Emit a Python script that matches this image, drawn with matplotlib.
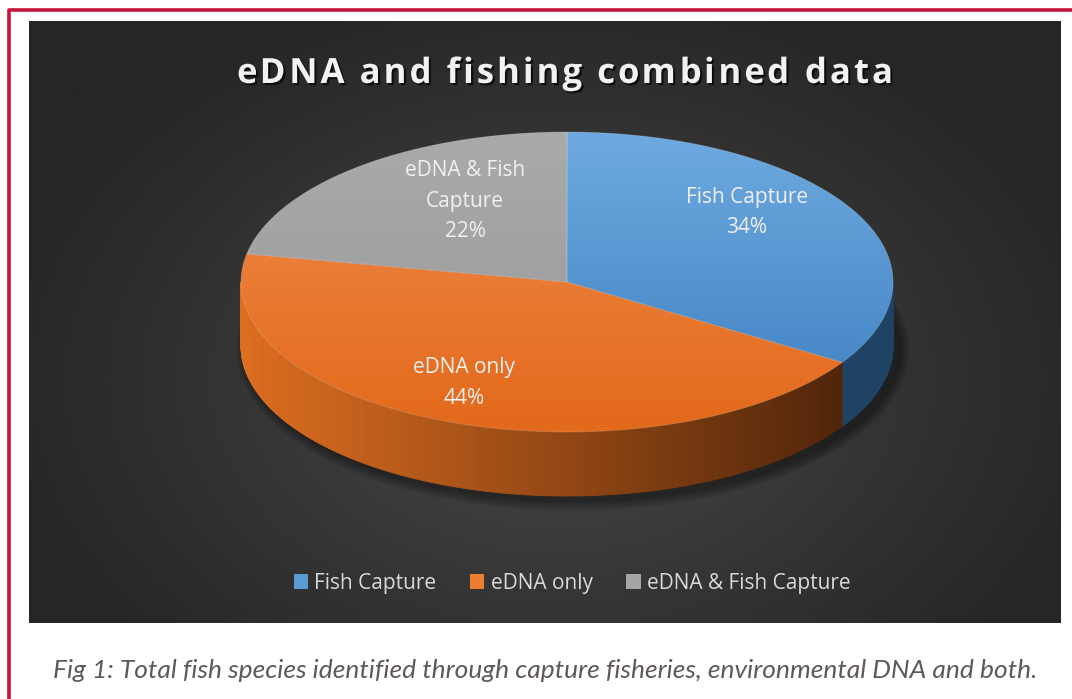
import numpy as np
import matplotlib
matplotlib.use("Agg")
import matplotlib.pyplot as plt
import matplotlib.patheffects as pe
from matplotlib.patches import Polygon, Patch, Ellipse
from matplotlib.collections import PolyCollection
from matplotlib.colors import to_rgb
from matplotlib.font_manager import FontProperties

# data
categories = ["Fish Capture", "eDNA only", "eDNA & Fish Capture"]
shares = [34, 44, 22]
slice_labels = ["Fish Capture\n34%", "eDNA only\n44%", "eDNA & Fish\nCapture\n22%"]
title = "eDNA and fishing combined data"
caption = "Fig 1: Total fish species identified through capture fisheries, environmental DNA and both."

top_colors = [("#6eaae0", "#3d7ec0"), ("#f08c4c", "#e3691b"), ("#aaaaaa", "#989898")]
side_colors = [("#2a5883", "#1f4365"), ("#de6f20", "#4f240a"), ("#8a8a8a", "#6a6a6a")]
legend_colors = ["#5b9bd5", "#ed7d31", "#a5a5a5"]

W, H = 1072, 699
fig = plt.figure(figsize=(W / 100, H / 100), dpi=100)
ax = fig.add_axes([0, 0, 1, 1])
ax.axis("off")

# outer frame
ax.plot([8.5, 8.5, W], [H, 10, 10], color="#c8143c", lw=2.6, solid_capstyle="butt")

# dark panel with radial gradient
px0, px1, py0, py1 = 29, 1061, 21, 623
gx, gy = np.meshgrid(np.linspace(px0, px1, 400), np.linspace(py0, py1, 240))
r = np.sqrt(((gx - 555) / 560) ** 2 + ((gy - 380) / 400) ** 2)
r = np.clip(r, 0, 1)
c_in, c_out = np.array(to_rgb("#484848")), np.array(to_rgb("#262626"))
bg = c_in[None, None, :] * (1 - r[..., None]) + c_out[None, None, :] * r[..., None]
ax.imshow(bg, extent=[px0, px1, py1, py0], aspect="auto", zorder=0, interpolation="bilinear")

# pie geometry (pixel units)
cx, cy, a, b, depth = 567, 282, 326, 150, 64


def pt(theta):
    return cx + a * np.sin(theta), cy - b * np.cos(theta)


# shadow
for k in range(7):
    ax.add_patch(Ellipse((cx + 6, cy + depth + 4), 2 * a + 4 + 3 * k, 2 * b + 4 + 3 * k,
                         facecolor="black", alpha=0.06, edgecolor="none", zorder=1))

bounds = np.concatenate([[0], np.cumsum(shares)]) / sum(shares) * 2 * np.pi

# side walls (front half only)
for i in range(len(shares)):
    t0, t1 = max(bounds[i], np.pi / 2), min(bounds[i + 1], 1.5 * np.pi)
    if t1 <= t0:
        continue
    ts = np.linspace(t0, t1, 200)
    c_left, c_right = np.array(to_rgb(side_colors[i][0])), np.array(to_rgb(side_colors[i][1]))
    quads, cols = [], []
    for t_a, t_b in zip(ts[:-1], ts[1:]):
        xa, ya = pt(t_a)
        xb, yb = pt(t_b)
        quads.append([(xa, ya), (xb, yb), (xb, yb + depth), (xa, ya + depth)])
        f = np.clip(((xa + xb) / 2 - (cx - a)) / (2 * a - 40), 0, 1)
        cols.append(c_left * (1 - f) + c_right * f)
    ax.add_collection(PolyCollection(quads, facecolors=cols, edgecolors=cols, linewidths=0.6, zorder=2))

# top faces with vertical gradient
for i in range(len(shares)):
    ts = np.linspace(bounds[i], bounds[i + 1], 200)
    xs, ys = pt(ts)
    verts = np.column_stack([np.concatenate([[cx], xs]), np.concatenate([[cy], ys])])
    poly = Polygon(verts, closed=True, facecolor="none", edgecolor="none", zorder=3)
    ax.add_patch(poly)
    c0, c1 = np.array(to_rgb(top_colors[i][0])), np.array(to_rgb(top_colors[i][1]))
    g = np.linspace(0, 1, 200)[:, None, None]
    img = np.repeat(c0 * (1 - g) + c1 * g, 2, axis=1)
    im = ax.imshow(img, extent=[cx - a, cx + a, cy + b, cy - b], aspect="auto", zorder=3,
                   interpolation="bilinear")
    im.set_clip_path(poly)
    ax.add_patch(Polygon(verts, closed=True, facecolor="none", edgecolor=(1, 1, 1, 0.2),
                         lw=0.6, zorder=4))

ax.set_xlim(0, W)
ax.set_ylim(H, 0)

# slice labels
label_r = [0.63, 0.86, 0.49]
label_dy = [-24, -19, -24]
for i, lab in enumerate(slice_labels):
    mid = (bounds[i] + bounds[i + 1]) / 2
    lx = cx + a * label_r[i] * np.sin(mid)
    ly = cy - b * label_r[i] * np.cos(mid) + label_dy[i]
    ax.text(lx, ly, lab, ha="center", va="center", color="#f0f0f0", fontsize=15,
            family="Open Sans", linespacing=1.6, zorder=5)

# title, drawn letter by letter for the wide tracking
renderer = fig.canvas.get_renderer()
fp = FontProperties(family="Open Sans", weight="bold", size=25)


def tw(s):
    return renderer.get_text_width_height_descent(s, fp, ismath=False)[0]


full = tw(title)
gap = (656 - full) / (len(title) - 1)
shadow = [pe.withSimplePatchShadow(offset=(1.5, -1.5), shadow_rgbFace="black", alpha=0.7)]
for k, ch in enumerate(title):
    if ch == " ":
        continue
    xoff = tw(title[:k] + "x") - tw("x") if k else 0
    ax.text(237 + xoff + k * gap, 83, ch, ha="left", va="baseline", color="#f2f2f2",
            fontproperties=fp, zorder=5, path_effects=shadow)

# legend
handles = [Patch(facecolor=c, edgecolor="none") for c in legend_colors]
leg = fig.legend(handles, categories, loc="center", bbox_to_anchor=(572 / W, 1 - 583 / H), ncol=3,
                 frameon=False, handlelength=0.7, handleheight=0.7, handletextpad=0.3,
                 columnspacing=1.6, prop={"family": "Open Sans", "size": 15})
for t in leg.get_texts():
    t.set_color("#d9d9d9")

# caption
ax.text(545, 670, caption, ha="center", va="center", color="#5e5858", fontsize=19,
        family="Lato", style="italic")

fig.savefig("out.png", dpi=100)
